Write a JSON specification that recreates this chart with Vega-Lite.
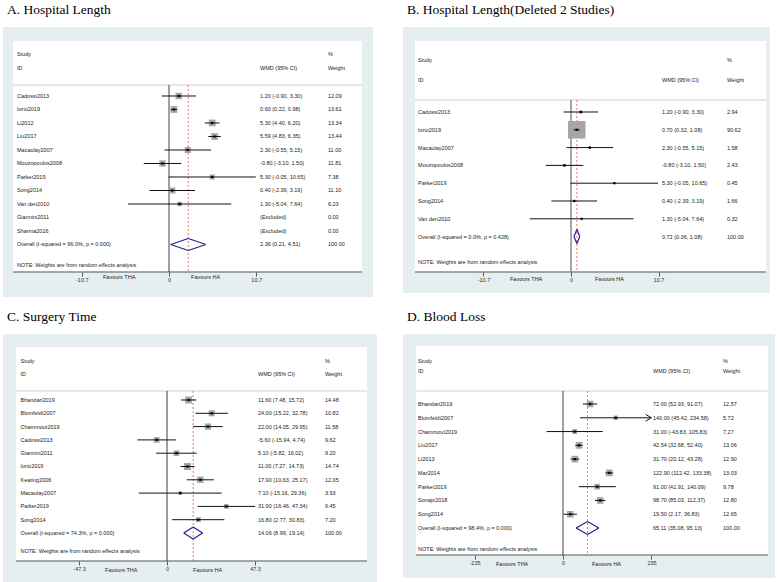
{
"$schema": "https://vega.github.io/schema/vega-lite/v6.json",
"padding": {"left": 3, "top": 2, "right": 0, "bottom": 0},
"spacing": 12,
"config": {
  "view": {"stroke": null},
  "axisY": {"disable": true},
  "axisX": {"domain": false, "grid": false, "tickSize": 4, "tickColor": "#333333", "tickWidth": 0.8, "labelFont": "Liberation Sans", "labelFontSize": 5.5, "labelColor": "#333333", "labelPadding": 1, "labelOverlap": false, "labelFlush": false},
  "text": {"font": "Liberation Sans", "fontSize": 5.5, "color": "#222222", "align": "left", "baseline": "middle"},
  "title": {"font": "Liberation Serif", "fontSize": 13.5, "fontWeight": "normal", "anchor": "start", "color": "#000000", "dx": 4, "offset": 11, "baseline": "alphabetic"}
},
"datasets": {
  "A": [
    {"i": 1, "study": "Cadossi2013", "est": 1.2, "lo": -0.9, "hi": 3.3, "ci": "1.20 (-0.90, 3.30)", "w": 12.09, "kind": "study"},
    {"i": 2, "study": "Iorio2019", "est": 0.6, "lo": 0.22, "hi": 0.98, "ci": "0.60 (0.22, 0.98)", "w": 13.61, "kind": "study"},
    {"i": 3, "study": "Li2012", "est": 5.3, "lo": 4.4, "hi": 6.2, "ci": "5.30 (4.40, 6.20)", "w": 13.34, "kind": "study"},
    {"i": 4, "study": "Liu2017", "est": 5.59, "lo": 4.83, "hi": 6.35, "ci": "5.59 (4.83, 6.35)", "w": 13.44, "kind": "study"},
    {"i": 5, "study": "Macaulay2007", "est": 2.3, "lo": -0.55, "hi": 5.15, "ci": "2.30 (-0.55, 5.15)", "w": 11.0, "kind": "study"},
    {"i": 6, "study": "Mouzopoulos2008", "est": -0.8, "lo": -3.1, "hi": 1.5, "ci": "-0.80 (-3.10, 1.50)", "w": 11.81, "kind": "study"},
    {"i": 7, "study": "Parker2019", "est": 5.3, "lo": -0.05, "hi": 10.65, "ci": "5.30 (-0.05, 10.65)", "w": 7.38, "kind": "study"},
    {"i": 8, "study": "Song2014", "est": 0.4, "lo": -2.39, "hi": 3.19, "ci": "0.40 (-2.39, 3.19)", "w": 11.1, "kind": "study"},
    {"i": 9, "study": "Van den2010", "est": 1.3, "lo": -5.04, "hi": 7.64, "ci": "1.30 (-5.04, 7.64)", "w": 6.23, "kind": "study"},
    {"i": 10, "study": "Giannini2011", "est": null, "lo": null, "hi": null, "ci": "(Excluded)", "w": 0, "kind": "excluded"},
    {"i": 11, "study": "Sharma2016", "est": null, "lo": null, "hi": null, "ci": "(Excluded)", "w": 0, "kind": "excluded"},
    {"i": 12, "study": "Overall  (I-squared = 96.0%, p = 0.000)", "est": 2.36, "lo": 0.21, "hi": 4.51, "ci": "2.36 (0.21, 4.51)", "w": 100, "kind": "overall"}
  ],
  "B": [
    {"i": 1, "study": "Cadossi2013", "est": 1.2, "lo": -0.9, "hi": 3.3, "ci": "1.20 (-0.90, 3.30)", "w": 2.94, "kind": "study"},
    {"i": 2, "study": "Iorio2019", "est": 0.7, "lo": 0.32, "hi": 1.08, "ci": "0.70 (0.32, 1.08)", "w": 90.62, "kind": "study"},
    {"i": 3, "study": "Macaulay2007", "est": 2.3, "lo": -0.55, "hi": 5.15, "ci": "2.30 (-0.55, 5.15)", "w": 1.58, "kind": "study"},
    {"i": 4, "study": "Mouzopoulos2008", "est": -0.8, "lo": -3.1, "hi": 1.5, "ci": "-0.80 (-3.10, 1.50)", "w": 2.43, "kind": "study"},
    {"i": 5, "study": "Parker2019", "est": 5.3, "lo": -0.05, "hi": 10.65, "ci": "5.30 (-0.05, 10.65)", "w": 0.45, "kind": "study"},
    {"i": 6, "study": "Song2014", "est": 0.4, "lo": -2.39, "hi": 3.19, "ci": "0.40 (-2.39, 3.19)", "w": 1.66, "kind": "study"},
    {"i": 7, "study": "Van den2010", "est": 1.3, "lo": -5.04, "hi": 7.64, "ci": "1.30 (-5.04, 7.64)", "w": 0.32, "kind": "study"},
    {"i": 8, "study": "Overall  (I-squared = 0.0%, p = 0.428)", "est": 0.72, "lo": 0.36, "hi": 1.08, "ci": "0.72 (0.36, 1.08)", "w": 100, "kind": "overall"}
  ],
  "C": [
    {"i": 1, "study": "Bhandari2019", "est": 11.6, "lo": 7.48, "hi": 15.72, "ci": "11.60 (7.48, 15.72)", "w": 14.48, "kind": "study"},
    {"i": 2, "study": "Blomfeldt2007", "est": 24.0, "lo": 15.22, "hi": 32.78, "ci": "24.00 (15.22, 32.78)", "w": 10.82, "kind": "study"},
    {"i": 3, "study": "Chammout2019", "est": 22.0, "lo": 14.05, "hi": 29.95, "ci": "22.00 (14.05, 29.95)", "w": 11.58, "kind": "study"},
    {"i": 4, "study": "Cadossi2013", "est": -5.6, "lo": -15.94, "hi": 4.74, "ci": "-5.60 (-15.94, 4.74)", "w": 9.62, "kind": "study"},
    {"i": 5, "study": "Giannini2011", "est": 5.1, "lo": -5.82, "hi": 16.02, "ci": "5.10 (-5.82, 16.02)", "w": 9.2, "kind": "study"},
    {"i": 6, "study": "Iorio2019", "est": 11.0, "lo": 7.27, "hi": 14.73, "ci": "11.00 (7.27, 14.73)", "w": 14.74, "kind": "study"},
    {"i": 7, "study": "Keating2006", "est": 17.9, "lo": 10.63, "hi": 25.17, "ci": "17.90 (10.63, 25.17)", "w": 12.05, "kind": "study"},
    {"i": 8, "study": "Macaulay2007", "est": 7.1, "lo": -15.16, "hi": 29.36, "ci": "7.10 (-15.16, 29.36)", "w": 3.93, "kind": "study"},
    {"i": 9, "study": "Parker2019", "est": 31.9, "lo": 16.46, "hi": 47.34, "ci": "31.90 (16.46, 47.34)", "w": 6.45, "kind": "study"},
    {"i": 10, "study": "Song2014", "est": 16.8, "lo": 2.77, "hi": 30.83, "ci": "16.80 (2.77, 30.83)", "w": 7.2, "kind": "study"},
    {"i": 11, "study": "Overall  (I-squared = 74.3%, p = 0.000)", "est": 14.06, "lo": 8.99, "hi": 19.14, "ci": "14.06 (8.99, 19.14)", "w": 100, "kind": "overall"}
  ],
  "D": [
    {"i": 1, "study": "Bhandari2019", "est": 72.0, "lo": 52.93, "hi": 91.07, "ci": "72.00 (52.93, 91.07)", "w": 12.57, "kind": "study"},
    {"i": 2, "study": "Blomfeldt2007", "est": 140.0, "lo": 45.42, "hi": 234.58, "ci": "140.00 (45.42, 234.58)", "w": 5.72, "kind": "study"},
    {"i": 3, "study": "Chammout2019", "est": 31.0, "lo": -43.83, "hi": 105.83, "ci": "31.00 (-43.83, 105.83)", "w": 7.27, "kind": "study"},
    {"i": 4, "study": "Liu2017", "est": 42.54, "lo": 32.68, "hi": 52.4, "ci": "42.54 (32.68, 52.40)", "w": 13.06, "kind": "study"},
    {"i": 5, "study": "Li2013", "est": 31.7, "lo": 20.12, "hi": 43.28, "ci": "31.70 (20.12, 43.28)", "w": 12.9, "kind": "study"},
    {"i": 6, "study": "Mar2014", "est": 122.9, "lo": 112.42, "hi": 133.38, "ci": "122.90 (112.42, 133.38)", "w": 13.03, "kind": "study"},
    {"i": 7, "study": "Parker2019", "est": 91.0, "lo": 41.91, "hi": 140.09, "ci": "91.00 (41.91, 140.09)", "w": 9.78, "kind": "study"},
    {"i": 8, "study": "Sonajo2018", "est": 98.7, "lo": 85.03, "hi": 112.37, "ci": "98.70 (85.03, 112.37)", "w": 12.8, "kind": "study"},
    {"i": 9, "study": "Song2014", "est": 19.5, "lo": 2.17, "hi": 36.83, "ci": "19.50 (2.17, 36.83)", "w": 12.65, "kind": "study"},
    {"i": 10, "study": "Overall  (I-squared = 98.4%, p = 0.000)", "est": 65.11, "lo": 35.08, "hi": 95.13, "ci": "65.11 (35.08, 95.13)", "w": 100, "kind": "overall"}
  ]
},
"vconcat": [
 {"hconcat": [
  {"width": 370, "height": 270, "title": "A. Hospital Length", "view": {"fill": "#e5eef0", "stroke": null}, "data": {"name": "A"},
   "layer": [
    {"data": {"values": [{}]}, "mark": {"type": "rect", "color": "#ffffff"}, "encoding": {
      "x": {"datum": -19.14, "type": "quantitative", "scale": {"domain": [-20.37, 25.03], "nice": false, "zero": false}, "axis": {"values": [-10.7, 0, 10.7], "offset": -25, "title": null, "labelExpr": "'' + datum.value"}},
      "x2": {"datum": 23.68},
      "y": {"datum": -3.074, "type": "quantitative", "scale": {"domain": [-4.111, 15.889], "reverse": true, "nice": false, "zero": false}},
      "y2": {"datum": 14.037}}},
    {"data": {"values": [{}]}, "mark": {"type": "rule", "color": "#d0d0d0", "strokeWidth": 1}, "encoding": {"x": {"datum": -19.14}, "x2": {"datum": 23.68}, "y": {"datum": 0.185}}},
    {"data": {"values": [{}]}, "mark": {"type": "rule", "color": "#555555", "strokeWidth": 1}, "encoding": {"x": {"datum": -19.14}, "x2": {"datum": 23.68}, "y": {"datum": 14.037}}},
    {"data": {"values": [{}]}, "mark": {"type": "rule", "color": "#111111", "strokeWidth": 0.8}, "encoding": {"x": {"datum": 0}, "y": {"datum": 0.185}, "y2": {"datum": 14.037}}},
    {"transform": [{"filter": "datum.kind == 'overall'"}], "mark": {"type": "rule", "color": "#d9534f", "strokeWidth": 0.8, "strokeDash": [2, 2]}, "encoding": {"x": {"field": "est", "type": "quantitative"}, "y": {"datum": 0.185}, "y2": {"datum": 14.037}}},
    {"transform": [{"filter": "datum.kind == 'study'"}], "mark": {"type": "point", "shape": "square", "filled": true, "color": "#a6a6a6", "opacity": 1}, "encoding": {"x": {"field": "est", "type": "quantitative"}, "y": {"field": "i", "type": "quantitative"}, "size": {"field": "w", "type": "quantitative", "scale": {"domain": [0, 100], "range": [0, 340]}, "legend": null}}},
    {"transform": [{"filter": "datum.kind == 'study'"}], "mark": {"type": "rule", "color": "#111111", "strokeWidth": 1}, "encoding": {"x": {"field": "lo", "type": "quantitative"}, "x2": {"field": "hi"}, "y": {"field": "i", "type": "quantitative"}}},
    {"transform": [{"filter": "datum.kind == 'study'"}], "mark": {"type": "point", "shape": "square", "filled": true, "color": "#000000", "size": 5, "opacity": 1}, "encoding": {"x": {"field": "est", "type": "quantitative"}, "y": {"field": "i", "type": "quantitative"}}},
    {"transform": [{"filter": "datum.kind == 'overall'"}], "mark": {"type": "rule", "color": "#23238e", "strokeWidth": 1.2, "y2Offset": -6}, "encoding": {"x": {"field": "lo", "type": "quantitative"}, "x2": {"field": "est"}, "y": {"field": "i", "type": "quantitative"}, "y2": {"field": "i"}}},
    {"transform": [{"filter": "datum.kind == 'overall'"}], "mark": {"type": "rule", "color": "#23238e", "strokeWidth": 1.2, "yOffset": -6}, "encoding": {"x": {"field": "est", "type": "quantitative"}, "x2": {"field": "hi"}, "y": {"field": "i", "type": "quantitative"}, "y2": {"field": "i"}}},
    {"transform": [{"filter": "datum.kind == 'overall'"}], "mark": {"type": "rule", "color": "#23238e", "strokeWidth": 1.2, "y2Offset": 6}, "encoding": {"x": {"field": "lo", "type": "quantitative"}, "x2": {"field": "est"}, "y": {"field": "i", "type": "quantitative"}, "y2": {"field": "i"}}},
    {"transform": [{"filter": "datum.kind == 'overall'"}], "mark": {"type": "rule", "color": "#23238e", "strokeWidth": 1.2, "yOffset": 6}, "encoding": {"x": {"field": "est", "type": "quantitative"}, "x2": {"field": "hi"}, "y": {"field": "i", "type": "quantitative"}, "y2": {"field": "i"}}},
    {"mark": {"type": "text"}, "encoding": {"x": {"datum": -18.65}, "y": {"field": "i", "type": "quantitative"}, "text": {"field": "study"}}},
    {"mark": {"type": "text"}, "encoding": {"x": {"datum": 11.17}, "y": {"field": "i", "type": "quantitative"}, "text": {"field": "ci"}}},
    {"mark": {"type": "text"}, "encoding": {"x": {"datum": 19.5}, "y": {"field": "i", "type": "quantitative"}, "text": {"field": "w", "type": "quantitative", "format": ".2f"}}},
    {"data": {"values": [{}]}, "mark": {"type": "text", "text": "Study"}, "encoding": {"x": {"datum": -18.65}, "y": {"datum": -2.111}}},
    {"data": {"values": [{}]}, "mark": {"type": "text", "text": "ID"}, "encoding": {"x": {"datum": -18.65}, "y": {"datum": -1.074}}},
    {"data": {"values": [{}]}, "mark": {"type": "text", "text": "WMD (95% CI)"}, "encoding": {"x": {"datum": 11.17}, "y": {"datum": -1.074}}},
    {"data": {"values": [{}]}, "mark": {"type": "text", "text": "%"}, "encoding": {"x": {"datum": 19.5}, "y": {"datum": -2.111}}},
    {"data": {"values": [{}]}, "mark": {"type": "text", "text": "Weight"}, "encoding": {"x": {"datum": 19.5}, "y": {"datum": -1.074}}},
    {"data": {"values": [{}]}, "mark": {"type": "text", "text": "NOTE: Weights are from random effects analysis"}, "encoding": {"x": {"datum": -18.65}, "y": {"datum": 13.52}}},
    {"data": {"values": [{}]}, "mark": {"type": "text", "text": "Favours THA"}, "encoding": {"x": {"datum": -8.1}, "y": {"datum": 14.41}}},
    {"data": {"values": [{}]}, "mark": {"type": "text", "text": "Favours HA"}, "encoding": {"x": {"datum": 2.7}, "y": {"datum": 14.41}}}
   ]},
  {"width": 367, "height": 266, "title": "B. Hospital Length(Deleted 2 Studies)", "view": {"fill": "#e5eef0", "stroke": null}, "data": {"name": "B"},
   "layer": [
    {"data": {"values": [{}]}, "mark": {"type": "rect", "color": "#ffffff"}, "encoding": {
      "x": {"datum": -19.07, "type": "quantitative", "scale": {"domain": [-20.54, 24.33], "nice": false, "zero": false}, "axis": {"values": [-10.7, 0, 10.7], "offset": -21, "title": null, "labelExpr": "'' + datum.value"}},
      "x2": {"datum": 23.84},
      "y": {"datum": -2.989, "type": "quantitative", "scale": {"domain": [-3.775, 11.169], "reverse": true, "nice": false, "zero": false}},
      "y2": {"datum": 9.989}}},
    {"data": {"values": [{}]}, "mark": {"type": "rule", "color": "#d0d0d0", "strokeWidth": 1}, "encoding": {"x": {"datum": -19.07}, "x2": {"datum": 23.84}, "y": {"datum": 0.326}}},
    {"data": {"values": [{}]}, "mark": {"type": "rule", "color": "#555555", "strokeWidth": 1}, "encoding": {"x": {"datum": -19.07}, "x2": {"datum": 23.84}, "y": {"datum": 9.989}}},
    {"data": {"values": [{}]}, "mark": {"type": "rule", "color": "#8a8a8a", "strokeWidth": 1.5}, "encoding": {"x": {"datum": 0}, "y": {"datum": 0.326}, "y2": {"datum": 9.989}}},
    {"transform": [{"filter": "datum.kind == 'overall'"}], "mark": {"type": "rule", "color": "#d9534f", "strokeWidth": 0.8, "strokeDash": [2, 2]}, "encoding": {"x": {"field": "est", "type": "quantitative"}, "y": {"datum": 0.326}, "y2": {"datum": 9.989}}},
    {"transform": [{"filter": "datum.kind == 'study'"}], "mark": {"type": "point", "shape": "square", "filled": true, "color": "#a6a6a6", "opacity": 1}, "encoding": {"x": {"field": "est", "type": "quantitative"}, "y": {"field": "i", "type": "quantitative"}, "size": {"field": "w", "type": "quantitative", "scale": {"domain": [0, 100], "range": [0, 340]}, "legend": null}}},
    {"transform": [{"filter": "datum.kind == 'study'"}], "mark": {"type": "rule", "color": "#111111", "strokeWidth": 1}, "encoding": {"x": {"field": "lo", "type": "quantitative"}, "x2": {"field": "hi"}, "y": {"field": "i", "type": "quantitative"}}},
    {"transform": [{"filter": "datum.kind == 'study'"}], "mark": {"type": "point", "shape": "square", "filled": true, "color": "#000000", "size": 5, "opacity": 1}, "encoding": {"x": {"field": "est", "type": "quantitative"}, "y": {"field": "i", "type": "quantitative"}}},
    {"transform": [{"filter": "datum.kind == 'overall'"}], "mark": {"type": "rule", "color": "#23238e", "strokeWidth": 1.2, "y2Offset": -7}, "encoding": {"x": {"field": "lo", "type": "quantitative"}, "x2": {"field": "est"}, "y": {"field": "i", "type": "quantitative"}, "y2": {"field": "i"}}},
    {"transform": [{"filter": "datum.kind == 'overall'"}], "mark": {"type": "rule", "color": "#23238e", "strokeWidth": 1.2, "yOffset": -7}, "encoding": {"x": {"field": "est", "type": "quantitative"}, "x2": {"field": "hi"}, "y": {"field": "i", "type": "quantitative"}, "y2": {"field": "i"}}},
    {"transform": [{"filter": "datum.kind == 'overall'"}], "mark": {"type": "rule", "color": "#23238e", "strokeWidth": 1.2, "y2Offset": 7}, "encoding": {"x": {"field": "lo", "type": "quantitative"}, "x2": {"field": "est"}, "y": {"field": "i", "type": "quantitative"}, "y2": {"field": "i"}}},
    {"transform": [{"filter": "datum.kind == 'overall'"}], "mark": {"type": "rule", "color": "#23238e", "strokeWidth": 1.2, "yOffset": 7}, "encoding": {"x": {"field": "est", "type": "quantitative"}, "x2": {"field": "hi"}, "y": {"field": "i", "type": "quantitative"}, "y2": {"field": "i"}}},
    {"mark": {"type": "text"}, "encoding": {"x": {"datum": -18.7}, "y": {"field": "i", "type": "quantitative"}, "text": {"field": "study"}}},
    {"mark": {"type": "text"}, "encoding": {"x": {"datum": 11.12}, "y": {"field": "i", "type": "quantitative"}, "text": {"field": "ci"}}},
    {"mark": {"type": "text"}, "encoding": {"x": {"datum": 19.07}, "y": {"field": "i", "type": "quantitative"}, "text": {"field": "w", "type": "quantitative", "format": ".2f"}}},
    {"data": {"values": [{}]}, "mark": {"type": "text", "text": "Study"}, "encoding": {"x": {"datum": -18.7}, "y": {"datum": -1.921}}},
    {"data": {"values": [{}]}, "mark": {"type": "text", "text": "ID"}, "encoding": {"x": {"datum": -18.7}, "y": {"datum": -0.798}}},
    {"data": {"values": [{}]}, "mark": {"type": "text", "text": "WMD (95% CI)"}, "encoding": {"x": {"datum": 11.12}, "y": {"datum": -0.798}}},
    {"data": {"values": [{}]}, "mark": {"type": "text", "text": "%"}, "encoding": {"x": {"datum": 19.07}, "y": {"datum": -1.921}}},
    {"data": {"values": [{}]}, "mark": {"type": "text", "text": "Weight"}, "encoding": {"x": {"datum": 19.07}, "y": {"datum": -0.798}}},
    {"data": {"values": [{}]}, "mark": {"type": "text", "text": "NOTE: Weights are from random effects analysis"}, "encoding": {"x": {"datum": -18.7}, "y": {"datum": 9.427}}},
    {"data": {"values": [{}]}, "mark": {"type": "text", "text": "Favours THA"}, "encoding": {"x": {"datum": -7.46}, "y": {"datum": 10.38}}},
    {"data": {"values": [{}]}, "mark": {"type": "text", "text": "Favours HA"}, "encoding": {"x": {"datum": 2.93}, "y": {"datum": 10.38}}}
   ]}
 ], "spacing": 30, "bounds": "flush"},
 {"hconcat": [
  {"width": 374, "height": 252, "title": "C. Surgery Time", "view": {"fill": "#e5eef0", "stroke": null}, "data": {"name": "C"},
   "layer": [
    {"data": {"values": [{}]}, "mark": {"type": "rect", "color": "#ffffff"}, "encoding": {
      "x": {"datum": -81.2, "type": "quantitative", "scale": {"domain": [-88.2, 112.9], "nice": false, "zero": false}, "axis": {"values": [-47.3, 0, 47.3], "offset": -25, "title": null, "labelExpr": "'' + datum.value"}},
      "x2": {"datum": 107.5},
      "y": {"datum": -2.985, "type": "quantitative", "scale": {"domain": [-3.962, 14.985], "reverse": true, "nice": false, "zero": false}},
      "y2": {"datum": 13.105}}},
    {"data": {"values": [{}]}, "mark": {"type": "rule", "color": "#d0d0d0", "strokeWidth": 1}, "encoding": {"x": {"datum": -81.2}, "x2": {"datum": 107.5}, "y": {"datum": 0.323}}},
    {"data": {"values": [{}]}, "mark": {"type": "rule", "color": "#555555", "strokeWidth": 1}, "encoding": {"x": {"datum": -81.2}, "x2": {"datum": 107.5}, "y": {"datum": 13.105}}},
    {"data": {"values": [{}]}, "mark": {"type": "rule", "color": "#111111", "strokeWidth": 0.8}, "encoding": {"x": {"datum": 0}, "y": {"datum": 0.323}, "y2": {"datum": 13.105}}},
    {"transform": [{"filter": "datum.kind == 'overall'"}], "mark": {"type": "rule", "color": "#d9534f", "strokeWidth": 0.8, "strokeDash": [2, 2]}, "encoding": {"x": {"field": "est", "type": "quantitative"}, "y": {"datum": 0.323}, "y2": {"datum": 13.105}}},
    {"transform": [{"filter": "datum.kind == 'study'"}], "mark": {"type": "point", "shape": "square", "filled": true, "color": "#a6a6a6", "opacity": 1}, "encoding": {"x": {"field": "est", "type": "quantitative"}, "y": {"field": "i", "type": "quantitative"}, "size": {"field": "w", "type": "quantitative", "scale": {"domain": [0, 100], "range": [0, 340]}, "legend": null}}},
    {"transform": [{"filter": "datum.kind == 'study'"}], "mark": {"type": "rule", "color": "#111111", "strokeWidth": 1}, "encoding": {"x": {"field": "lo", "type": "quantitative"}, "x2": {"field": "hi"}, "y": {"field": "i", "type": "quantitative"}}},
    {"transform": [{"filter": "datum.kind == 'study'"}], "mark": {"type": "point", "shape": "square", "filled": true, "color": "#000000", "size": 5, "opacity": 1}, "encoding": {"x": {"field": "est", "type": "quantitative"}, "y": {"field": "i", "type": "quantitative"}}},
    {"transform": [{"filter": "datum.kind == 'overall'"}], "mark": {"type": "rule", "color": "#23238e", "strokeWidth": 1.2, "y2Offset": -6}, "encoding": {"x": {"field": "lo", "type": "quantitative"}, "x2": {"field": "est"}, "y": {"field": "i", "type": "quantitative"}, "y2": {"field": "i"}}},
    {"transform": [{"filter": "datum.kind == 'overall'"}], "mark": {"type": "rule", "color": "#23238e", "strokeWidth": 1.2, "yOffset": -6}, "encoding": {"x": {"field": "est", "type": "quantitative"}, "x2": {"field": "hi"}, "y": {"field": "i", "type": "quantitative"}, "y2": {"field": "i"}}},
    {"transform": [{"filter": "datum.kind == 'overall'"}], "mark": {"type": "rule", "color": "#23238e", "strokeWidth": 1.2, "y2Offset": 6}, "encoding": {"x": {"field": "lo", "type": "quantitative"}, "x2": {"field": "est"}, "y": {"field": "i", "type": "quantitative"}, "y2": {"field": "i"}}},
    {"transform": [{"filter": "datum.kind == 'overall'"}], "mark": {"type": "rule", "color": "#23238e", "strokeWidth": 1.2, "yOffset": 6}, "encoding": {"x": {"field": "est", "type": "quantitative"}, "x2": {"field": "hi"}, "y": {"field": "i", "type": "quantitative"}, "y2": {"field": "i"}}},
    {"mark": {"type": "text"}, "encoding": {"x": {"datum": -78.8}, "y": {"field": "i", "type": "quantitative"}, "text": {"field": "study"}}},
    {"mark": {"type": "text"}, "encoding": {"x": {"datum": 48.9}, "y": {"field": "i", "type": "quantitative"}, "text": {"field": "ci"}}},
    {"mark": {"type": "text"}, "encoding": {"x": {"datum": 84.9}, "y": {"field": "i", "type": "quantitative"}, "text": {"field": "w", "type": "quantitative", "format": ".2f"}}},
    {"data": {"values": [{}]}, "mark": {"type": "text", "text": "Study"}, "encoding": {"x": {"datum": -78.8}, "y": {"datum": -1.932}}},
    {"data": {"values": [{}]}, "mark": {"type": "text", "text": "ID"}, "encoding": {"x": {"datum": -78.8}, "y": {"datum": -0.955}}},
    {"data": {"values": [{}]}, "mark": {"type": "text", "text": "WMD (95% CI)"}, "encoding": {"x": {"datum": 48.9}, "y": {"datum": -0.955}}},
    {"data": {"values": [{}]}, "mark": {"type": "text", "text": "%"}, "encoding": {"x": {"datum": 84.9}, "y": {"datum": -1.932}}},
    {"data": {"values": [{}]}, "mark": {"type": "text", "text": "Weight"}, "encoding": {"x": {"datum": 84.9}, "y": {"datum": -0.955}}},
    {"data": {"values": [{}]}, "mark": {"type": "text", "text": "NOTE: Weights are from random effects analysis"}, "encoding": {"x": {"datum": -78.8}, "y": {"datum": 12.353}}},
    {"data": {"values": [{}]}, "mark": {"type": "text", "text": "Favours THA"}, "encoding": {"x": {"datum": -33.3}, "y": {"datum": 13.78}}},
    {"data": {"values": [{}]}, "mark": {"type": "text", "text": "Favours HA"}, "encoding": {"x": {"datum": 14.0}, "y": {"datum": 13.78}}}
   ]},
  {"width": 372, "height": 244, "title": "D. Blood Loss", "view": {"fill": "#e5eef0", "stroke": null}, "data": {"name": "D"},
   "layer": [
    {"data": {"values": [{}]}, "mark": {"type": "rect", "color": "#ffffff"}, "encoding": {
      "x": {"datum": -390.3, "type": "quantitative", "scale": {"domain": [-424.9, 563], "nice": false, "zero": false}, "axis": {"values": [-235, 0, 235], "offset": -23, "title": null, "labelExpr": "'' + datum.value"}},
      "x2": {"datum": 544.3},
      "y": {"datum": -3.209, "type": "quantitative", "scale": {"domain": [-4.08, 13.627], "reverse": true, "nice": false, "zero": false}},
      "y2": {"datum": 11.958}}},
    {"data": {"values": [{}]}, "mark": {"type": "rule", "color": "#d0d0d0", "strokeWidth": 1}, "encoding": {"x": {"datum": -390.3}, "x2": {"datum": 544.3}, "y": {"datum": 0.057}}},
    {"data": {"values": [{}]}, "mark": {"type": "rule", "color": "#555555", "strokeWidth": 1}, "encoding": {"x": {"datum": -390.3}, "x2": {"datum": 544.3}, "y": {"datum": 11.958}}},
    {"data": {"values": [{}]}, "mark": {"type": "rule", "color": "#111111", "strokeWidth": 0.8}, "encoding": {"x": {"datum": 0}, "y": {"datum": 0.057}, "y2": {"datum": 11.958}}},
    {"transform": [{"filter": "datum.kind == 'overall'"}], "mark": {"type": "rule", "color": "#d9534f", "strokeWidth": 0.8, "strokeDash": [2, 2]}, "encoding": {"x": {"field": "est", "type": "quantitative"}, "y": {"datum": 0.057}, "y2": {"datum": 11.958}}},
    {"transform": [{"filter": "datum.kind == 'study'"}], "mark": {"type": "point", "shape": "square", "filled": true, "color": "#a6a6a6", "opacity": 1}, "encoding": {"x": {"field": "est", "type": "quantitative"}, "y": {"field": "i", "type": "quantitative"}, "size": {"field": "w", "type": "quantitative", "scale": {"domain": [0, 100], "range": [0, 340]}, "legend": null}}},
    {"transform": [{"filter": "datum.kind == 'study'"}], "mark": {"type": "rule", "color": "#111111", "strokeWidth": 1}, "encoding": {"x": {"field": "lo", "type": "quantitative"}, "x2": {"field": "hi"}, "y": {"field": "i", "type": "quantitative"}}},
    {"transform": [{"filter": "datum.kind == 'study' && datum.hi > 230"}], "mark": {"type": "point", "shape": "M-1,-0.6L0,0L-1,0.6", "filled": false, "color": "#111111", "strokeWidth": 1, "size": 130, "opacity": 1}, "encoding": {"x": {"field": "hi", "type": "quantitative"}, "y": {"field": "i", "type": "quantitative"}}},
    {"transform": [{"filter": "datum.kind == 'study'"}], "mark": {"type": "point", "shape": "square", "filled": true, "color": "#000000", "size": 5, "opacity": 1}, "encoding": {"x": {"field": "est", "type": "quantitative"}, "y": {"field": "i", "type": "quantitative"}}},
    {"transform": [{"filter": "datum.kind == 'overall'"}], "mark": {"type": "rule", "color": "#23238e", "strokeWidth": 1.2, "y2Offset": -6.5}, "encoding": {"x": {"field": "lo", "type": "quantitative"}, "x2": {"field": "est"}, "y": {"field": "i", "type": "quantitative"}, "y2": {"field": "i"}}},
    {"transform": [{"filter": "datum.kind == 'overall'"}], "mark": {"type": "rule", "color": "#23238e", "strokeWidth": 1.2, "yOffset": -6.5}, "encoding": {"x": {"field": "est", "type": "quantitative"}, "x2": {"field": "hi"}, "y": {"field": "i", "type": "quantitative"}, "y2": {"field": "i"}}},
    {"transform": [{"filter": "datum.kind == 'overall'"}], "mark": {"type": "rule", "color": "#23238e", "strokeWidth": 1.2, "y2Offset": 6.5}, "encoding": {"x": {"field": "lo", "type": "quantitative"}, "x2": {"field": "est"}, "y": {"field": "i", "type": "quantitative"}, "y2": {"field": "i"}}},
    {"transform": [{"filter": "datum.kind == 'overall'"}], "mark": {"type": "rule", "color": "#23238e", "strokeWidth": 1.2, "yOffset": 6.5}, "encoding": {"x": {"field": "est", "type": "quantitative"}, "x2": {"field": "hi"}, "y": {"field": "i", "type": "quantitative"}, "y2": {"field": "i"}}},
    {"mark": {"type": "text"}, "encoding": {"x": {"datum": -385}, "y": {"field": "i", "type": "quantitative"}, "text": {"field": "study"}}},
    {"mark": {"type": "text"}, "encoding": {"x": {"datum": 239}, "y": {"field": "i", "type": "quantitative"}, "text": {"field": "ci"}}},
    {"mark": {"type": "text"}, "encoding": {"x": {"datum": 424.9}, "y": {"field": "i", "type": "quantitative"}, "text": {"field": "w", "type": "quantitative", "format": ".2f"}}},
    {"data": {"values": [{}]}, "mark": {"type": "text", "text": "Study"}, "encoding": {"x": {"datum": -385}, "y": {"datum": -2.12}}},
    {"data": {"values": [{}]}, "mark": {"type": "text", "text": "ID"}, "encoding": {"x": {"datum": -385}, "y": {"datum": -1.395}}},
    {"data": {"values": [{}]}, "mark": {"type": "text", "text": "WMD (95% CI)"}, "encoding": {"x": {"datum": 239}, "y": {"datum": -1.395}}},
    {"data": {"values": [{}]}, "mark": {"type": "text", "text": "%"}, "encoding": {"x": {"datum": 424.9}, "y": {"datum": -2.12}}},
    {"data": {"values": [{}]}, "mark": {"type": "text", "text": "Weight"}, "encoding": {"x": {"datum": 424.9}, "y": {"datum": -1.395}}},
    {"data": {"values": [{}]}, "mark": {"type": "text", "text": "NOTE: Weights are from random effects analysis"}, "encoding": {"x": {"datum": -385}, "y": {"datum": 11.522}}},
    {"data": {"values": [{}]}, "mark": {"type": "text", "text": "Favours THA"}, "encoding": {"x": {"datum": -178}, "y": {"datum": 12.61}}},
    {"data": {"values": [{}]}, "mark": {"type": "text", "text": "Favours HA"}, "encoding": {"x": {"datum": 77}, "y": {"datum": 12.61}}}
   ]}
 ], "spacing": 26, "bounds": "flush"}
]
}
